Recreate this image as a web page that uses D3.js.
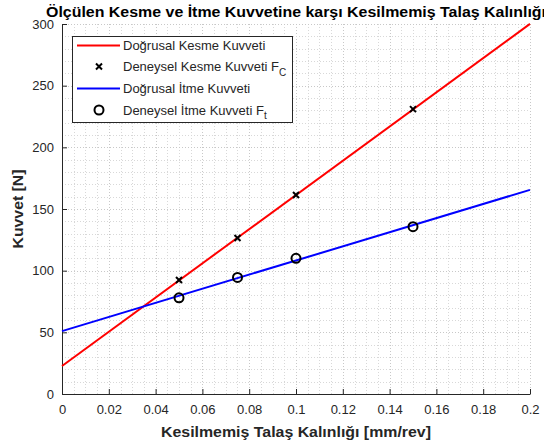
<!DOCTYPE html>
<html><head><meta charset="utf-8">
<script src="https://cdn.jsdelivr.net/npm/d3@7"></script>
<style>body{margin:0;background:#fff}svg{display:block}</style>
</head><body>
<script>
const thickness = [0.05, 0.075, 0.1, 0.15];
const cuttingForce = [92.4, 126.5, 161.4, 231.0];
const thrustForce = [78.0, 94.5, 110.0, 135.7];
const fitX = [0, 0.2];
const cuttingFit = [22.7, 300.1];
const thrustFit = [51.0, 165.5];
const xTicks = [0,0.02,0.04,0.06,0.08,0.1,0.12,0.14,0.16,0.18,0.2];
const yTicks = [0,50,100,150,200,250,300];

const W=544,H=445;
const L=62,R=530,T=24,B=394;
const svg=d3.select("body").append("svg").attr("width",W).attr("height",H);
const font="'Liberation Sans', Arial, Helvetica, sans-serif";
const x=d3.scaleLinear().domain([0,0.2]).range([L,R]);
const y=d3.scaleLinear().domain([0,300]).range([B,T]);

// grid
const g=svg.append("g");
const xMinor=d3.range(0,0.2001,0.005), yMinor=d3.range(0,300.1,10);
g.selectAll(".vx").data(xMinor).join("line")
 .attr("x1",d=>Math.round(x(d))+0.5).attr("x2",d=>Math.round(x(d))+0.5).attr("y1",T).attr("y2",B)
 .attr("stroke",d=>xTicks.some(t=>Math.abs(t-d)<1e-9)?"#c8c8c8":"#d8d8d8").attr("stroke-dasharray","1,2");
g.selectAll(".hy").data(yMinor).join("line")
 .attr("y1",d=>Math.round(y(d))+0.5).attr("y2",d=>Math.round(y(d))+0.5).attr("x1",L).attr("x2",R)
 .attr("stroke",d=>yTicks.includes(Math.round(d))?"#c8c8c8":"#d8d8d8").attr("stroke-dasharray","1,2");

// axes
const xa=d3.axisBottom(x).tickValues(xTicks).tickFormat(d=>d===0?"0":String(+d.toFixed(2))).tickSizeInner(-5).tickSizeOuter(0).tickPadding(11);
const ya=d3.axisLeft(y).tickValues(yTicks).tickSizeInner(-5).tickSizeOuter(0).tickPadding(8);
const gx=svg.append("g").attr("transform",`translate(0,${B})`).call(xa);
const gy=svg.append("g").attr("transform",`translate(${L},0)`).call(ya);
[gx,gy].forEach(a=>{a.selectAll("path,line").attr("stroke","#262626");a.selectAll("text").attr("fill","#262626").style("font-family",font).style("font-size","13px");});

// lines
const line=d3.line().x(d=>x(d[0])).y(d=>y(d[1]));
svg.append("path").datum(fitX.map((v,i)=>[v,cuttingFit[i]])).attr("d",line).attr("stroke","#ff0000").attr("stroke-width",2).attr("fill","none");
svg.append("path").datum(fitX.map((v,i)=>[v,thrustFit[i]])).attr("d",line).attr("stroke","#0000ff").attr("stroke-width",2).attr("fill","none");

const cross=(sel,cx,cy,s)=>{sel.append("path").attr("d",`M${cx-s},${cy-s}L${cx+s},${cy+s}M${cx-s},${cy+s}L${cx+s},${cy-s}`).attr("stroke","#000").attr("stroke-width",2);};
thickness.forEach((t,i)=>cross(svg,x(t),y(cuttingForce[i]),3));
svg.selectAll(".c").data(thickness).join("circle").attr("cx",d=>x(d)).attr("cy",(d,i)=>y(thrustForce[i])).attr("r",4.5)
 .attr("fill","none").attr("stroke","#000").attr("stroke-width",2);

// legend
const lg=svg.append("g");
lg.append("rect").attr("x",72.5).attr("y",36.5).attr("width",220).attr("height",86).attr("fill","#fff").attr("stroke","#262626");
const rows=[45.5,66.5,88.5,110];
lg.append("line").attr("x1",77).attr("x2",120).attr("y1",rows[0]).attr("y2",rows[0]).attr("stroke","#ff0000").attr("stroke-width",2);
cross(lg,99,rows[1],3);
lg.append("line").attr("x1",77).attr("x2",120).attr("y1",rows[2]).attr("y2",rows[2]).attr("stroke","#0000ff").attr("stroke-width",2);
lg.append("circle").attr("cx",99).attr("cy",rows[3]).attr("r",4.5).attr("fill","none").attr("stroke","#000").attr("stroke-width",2);
const lt=(yy,txt,sub)=>{const t=lg.append("text").attr("x",123).attr("y",yy+4.5).attr("fill","#262626").style("font-family",font).style("font-size","13px").text(txt);
 if(sub){t.append("tspan").attr("dy",4.5).style("font-size","10px").text(sub);} };
lt(rows[0],"Doğrusal Kesme Kuvveti");
lt(rows[1],"Deneysel Kesme Kuvveti F","C");
lt(rows[2],"Doğrusal İtme Kuvveti");
lt(rows[3],"Deneysel İtme Kuvveti F","t");

// labels
svg.append("text").attr("x",(L+R)/2).attr("y",17).attr("text-anchor","middle").attr("fill","#000").style("font-family",font).style("font-weight","bold").style("font-size","14.5px")
 .attr("textLength",500).attr("lengthAdjust","spacingAndGlyphs")
 .text("Ölçülen Kesme ve İtme Kuvvetine karşı Kesilmemiş Talaş Kalınlığı");
svg.append("text").attr("x",(L+R)/2).attr("y",437).attr("text-anchor","middle").attr("fill","#262626").style("font-family",font).style("font-weight","bold").style("font-size","14.5px")
 .attr("textLength",270).attr("lengthAdjust","spacingAndGlyphs")
 .text("Kesilmemiş Talaş Kalınlığı [mm/rev]");
svg.append("text").attr("transform",`translate(23,${(T+B)/2}) rotate(-90)`).attr("text-anchor","middle").attr("fill","#262626").style("font-family",font).style("font-weight","bold").style("font-size","14.5px")
 .attr("textLength",79).attr("lengthAdjust","spacingAndGlyphs")
 .text("Kuvvet [N]");
</script>
</body></html>
